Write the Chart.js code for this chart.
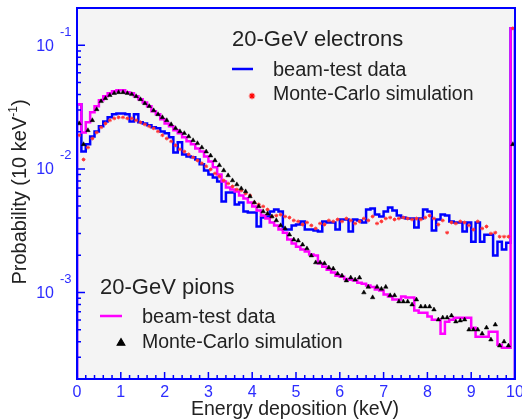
<!DOCTYPE html>
<html>
<head>
<meta charset="utf-8">
<script src="https://cdn.jsdelivr.net/npm/chart.js@4.4.1/dist/chart.umd.min.js"></script>
<style>
  html, body { margin: 0; padding: 0; background: #fff; }
  canvas { display: block; }
</style>
</head>
<body>
<canvas id="edep" width="522" height="419"></canvas>
<script>
// 0.1 keV bins from 0 to 10 keV, the last bin collects everything above
const binWidth = 0.1;

const elecData = [
  0.0333, 0.0138, 0.0158, 0.0183, 0.0201, 0.0221, 0.0242, 0.0261, 0.0276, 0.0281,
  0.0281, 0.0276, 0.0242, 0.0276, 0.0238, 0.0233, 0.0225, 0.0217, 0.0213, 0.0201,
  0.0194, 0.0180, 0.0136, 0.0164, 0.0131, 0.0126, 0.0124, 0.0119, 0.0109, 0.00972,
  0.00902, 0.00853, 0.00791, 0.00545, 0.00645, 0.00645, 0.00516, 0.00535, 0.00452, 0.00443,
  0.00443, 0.00342, 0.00404, 0.00412, 0.00452, 0.00469, 0.00452, 0.00323, 0.00323, 0.00349,
  0.00355, 0.00376, 0.00323, 0.00323, 0.00317, 0.00311, 0.00376, 0.00369, 0.00369, 0.00323,
  0.00390, 0.00390, 0.00311, 0.00390, 0.00383, 0.00369, 0.00469, 0.00479, 0.00427, 0.00412,
  0.00452, 0.00488, 0.00460, 0.00419, 0.00404, 0.00397, 0.00397, 0.00336, 0.00397, 0.00469,
  0.00452, 0.00317, 0.00390, 0.00427, 0.00419, 0.00376, 0.00369, 0.00369, 0.00311, 0.00369,
  0.00258, 0.00369, 0.00258, 0.00294, 0.00294, 0.00199, 0.00258, 0.00223, 0.00253, 0.137
];

const elecSim = [
  0.0187, 0.0119, 0.0149, 0.0176, 0.0197, 0.0217, 0.0233, 0.0247, 0.0256, 0.0261,
  0.0261, 0.0256, 0.0256, 0.0247, 0.0238, 0.0229, 0.0221, 0.0213, 0.0201, 0.0187,
  0.0176, 0.0167, 0.0155, 0.0144, 0.0138, 0.0131, 0.0124, 0.0117, 0.0111, 0.0105,
  0.00990, 0.00919, 0.00869, 0.00806, 0.00762, 0.00721, 0.00682, 0.00669, 0.00633, 0.00610,
  0.00535, 0.00516, 0.00497, 0.00469, 0.00412, 0.00419, 0.00427, 0.00412, 0.00404, 0.00383,
  0.00376, 0.00355, 0.00369, 0.00349, 0.00330, 0.00362, 0.00355, 0.00383, 0.00376, 0.00390,
  0.00376, 0.00397, 0.00383, 0.00362, 0.00376, 0.00397, 0.00383, 0.00412, 0.00362, 0.00376,
  0.00397, 0.00404, 0.00390, 0.00397, 0.00404, 0.00397, 0.00390, 0.00397, 0.00390, 0.00404,
  0.00419, 0.00397, 0.00355, 0.00383, 0.00305, 0.00369, 0.00362, 0.00376, 0.00369, 0.00349,
  0.00323, 0.00376, 0.00330, 0.00342, 0.00300, 0.00305, 0.00283, 0.00283, 0.00283, 0.137
];

const pionData = [
  0.0333, 0.0197, 0.0238, 0.0287, 0.0321, 0.0359, 0.0386, 0.0409, 0.0424, 0.0432,
  0.0432, 0.0416, 0.0409, 0.0386, 0.0365, 0.0345, 0.0321, 0.0292, 0.0276, 0.0252,
  0.0233, 0.0221, 0.0205, 0.0194, 0.0180, 0.0167, 0.0158, 0.0146, 0.0138, 0.0126,
  0.0115, 0.0103, 0.00902, 0.00791, 0.00707, 0.00682, 0.00657, 0.00610, 0.00577, 0.00535,
  0.00497, 0.00460, 0.00419, 0.00397, 0.00369, 0.00349, 0.00323, 0.00305, 0.00268, 0.00249,
  0.00235, 0.00223, 0.00215, 0.00203, 0.00199, 0.00172, 0.00162, 0.00153, 0.00145, 0.00137,
  0.00134, 0.00129, 0.00127, 0.00125, 0.00120, 0.00118, 0.00114, 0.00111, 0.00106, 0.00104,
  0.000966, 0.000930, 0.000877, 0.000877, 0.000930, 0.000913, 0.000913, 0.000715, 0.000688, 0.000688,
  0.000639, 0.000604, 0.000604, 0.000465, 0.000582, 0.000604, 0.000627, 0.000627, 0.000627, 0.000627,
  0.000520, 0.000440, 0.000440, 0.000440, 0.000483, 0.000483, 0.000379, 0.000358, 0.000358, 0.137
];

const pionSim = [
  0.0233, 0.0158, 0.0205, 0.0247, 0.0303, 0.0352, 0.0372, 0.0394, 0.0409, 0.0416,
  0.0416, 0.0409, 0.0401, 0.0386, 0.0365, 0.0339, 0.0321, 0.0297, 0.0276, 0.0261,
  0.0247, 0.0229, 0.0213, 0.0201, 0.0194, 0.0183, 0.0170, 0.0161, 0.0149, 0.0138,
  0.0128, 0.0117, 0.0107, 0.00972, 0.00885, 0.00806, 0.00748, 0.00694, 0.00657, 0.00599,
  0.00535, 0.00497, 0.00452, 0.00435, 0.00412, 0.00383, 0.00349, 0.00330, 0.00294, 0.00268,
  0.00263, 0.00244, 0.00227, 0.00199, 0.00175, 0.00175, 0.00172, 0.00159, 0.00156, 0.00142,
  0.00137, 0.00125, 0.00132, 0.00127, 0.00132, 0.00100, 0.00111, 0.000913, 0.00111, 0.00107,
  0.00111, 0.000948, 0.000948, 0.000845, 0.000845, 0.000845, 0.000799, 0.000877, 0.000770, 0.000770,
  0.000770, 0.000728, 0.000604, 0.000627, 0.000627, 0.000651, 0.000582, 0.000593, 0.000604, 0.000501,
  0.000501, 0.000501, 0.000465, 0.000520, 0.000416, 0.000550, 0.000372, 0.000401, 0.000372, 0.0158
];

const xTicks = [0, 1, 2, 3, 4, 5, 6, 7, 8, 9, 10];
const yDecades = [1e-3, 1e-2, 1e-1];
const yDecadeExp = ['-3', '-2', '-1'];
const yMin = 2e-4, yMax = 0.2;

const legendTitles = ['20-GeV electrons', '20-GeV pions'];
const legendRows = ['beam-test data', 'Monte-Carlo simulation'];

const axisBlue = '#0000ff';
const labelBlue = '#2c2cff';
const textCol = '#222222';
const FONT = '"Liberation Sans", Arial, Helvetica, sans-serif';

// step outline that drops to the floor at both ends, like ROOT draws it
function histPoints(vals) {
  const floor = yMin / 10;
  const pts = [{ x: 0, y: floor }];
  vals.forEach((v, i) => pts.push({ x: i * binWidth, y: v }));
  const end = vals.length * binWidth;
  pts.push({ x: end, y: vals[vals.length - 1] });
  pts.push({ x: end, y: floor });
  return pts;
}

function centerPoints(vals) {
  return vals.map((v, i) => ({ x: (i + 0.5) * binWidth, y: v }));
}

function marker(ctx, style, x, y, r, color) {
  ctx.save();
  ctx.fillStyle = color;
  ctx.strokeStyle = color;
  ctx.lineWidth = 1.1;
  if (Chart.helpers && Chart.helpers.drawPoint) {
    Chart.helpers.drawPoint(ctx, { pointStyle: style, radius: r, borderWidth: 1.1, rotation: 0 }, x, y);
  }
  ctx.restore();
}

const decor = {
  id: 'decor',
  beforeDatasetsDraw(chart) {
    const { ctx, chartArea: a } = chart;
    ctx.save();
    ctx.fillStyle = '#f4f4f4';
    ctx.fillRect(a.left, a.top, a.right - a.left, a.bottom - a.top);
    ctx.restore();
  },
  afterDatasetsDraw(chart) {
    const { ctx, chartArea: a, scales: { x, y } } = chart;
    ctx.save();
    ctx.strokeStyle = axisBlue;
    ctx.lineWidth = 2;
    ctx.strokeRect(a.left, a.top, a.right - a.left, a.bottom - a.top);

    ctx.lineWidth = 1.5;
    ctx.beginPath();
    // x ticks every 0.2 keV, longer on the integers
    for (let k = 0; k <= 50; k++) {
      const px = x.getPixelForValue(k * 0.2);
      const len = k % 5 === 0 ? 7 : 4;
      ctx.moveTo(px, a.bottom);
      ctx.lineTo(px, a.bottom - len);
    }
    // log ticks on the left axis
    for (let d = -4; d <= -1; d++) {
      for (let m = 1; m <= 9; m++) {
        const v = m * Math.pow(10, d);
        if (v < yMin * 0.999 || v > yMax * 1.001) continue;
        const py = y.getPixelForValue(v);
        const len = m === 1 ? 8 : 4;
        ctx.moveTo(a.left, py);
        ctx.lineTo(a.left + len, py);
      }
    }
    ctx.stroke();
    ctx.restore();
  },
  afterDraw(chart) {
    const { ctx, chartArea: a, scales: { x, y } } = chart;
    ctx.save();

    // tick labels
    ctx.fillStyle = labelBlue;
    ctx.textBaseline = 'middle';
    ctx.textAlign = 'center';
    ctx.font = '16px ' + FONT;
    xTicks.forEach(t => ctx.fillText(String(t), x.getPixelForValue(t), a.bottom + 14));

    yDecades.forEach((v, i) => {
      const py = y.getPixelForValue(v);
      ctx.font = '16px ' + FONT;
      ctx.textAlign = 'right';
      ctx.fillText('10', a.left - 23, py + 1);
      ctx.font = '13px ' + FONT;
      ctx.textAlign = 'left';
      ctx.fillText(yDecadeExp[i], a.left - 17, py - 13);
    });

    // axis titles
    ctx.fillStyle = textCol;
    ctx.font = '19.5px ' + FONT;
    ctx.textAlign = 'center';
    ctx.fillText('Energy deposition (keV)', 295, 410);

    ctx.save();
    ctx.translate(20, 192);
    ctx.rotate(-Math.PI / 2);
    const main = 'Probability (10 keV';
    const sup = '-1';
    const close = ')';
    ctx.font = '20px ' + FONT;
    const w1 = ctx.measureText(main).width;
    const w3 = ctx.measureText(close).width;
    ctx.font = '12px ' + FONT;
    const w2 = ctx.measureText(sup).width;
    let cx = -(w1 + w2 + w3) / 2;
    ctx.textAlign = 'left';
    ctx.font = '20px ' + FONT;
    ctx.fillText(main, cx, 0);
    cx += w1;
    ctx.font = '12px ' + FONT;
    ctx.fillText(sup, cx, -6);
    cx += w2;
    ctx.font = '20px ' + FONT;
    ctx.fillText(close, cx, 0);
    ctx.restore();

    // legends
    ctx.textAlign = 'left';
    ctx.fillStyle = textCol;
    ctx.font = '22px ' + FONT;
    ctx.fillText(legendTitles[0], 232, 40);
    ctx.fillText(legendTitles[1], 100, 288);
    ctx.font = '20px ' + FONT;
    ctx.fillText(legendRows[0], 273, 70);
    ctx.fillText(legendRows[0], 142, 317);
    ctx.font = '19.5px ' + FONT;
    ctx.fillText(legendRows[1], 273, 95);
    ctx.fillText(legendRows[1], 142, 343);

    ctx.lineWidth = 2.5;
    ctx.strokeStyle = '#0000ff';
    ctx.beginPath();
    ctx.moveTo(232, 69);
    ctx.lineTo(253, 69);
    ctx.stroke();
    ctx.strokeStyle = '#ff00ff';
    ctx.beginPath();
    ctx.moveTo(100, 316);
    ctx.lineTo(122, 316);
    ctx.stroke();
    marker(ctx, 'star', 252, 96, 3.2, '#ff0000');
    marker(ctx, 'triangle', 121, 343, 4.5, '#000000');

    ctx.restore();
  }
};

new Chart(document.getElementById('edep'), {
  type: 'scatter',
  data: {
    datasets: [
      {
        label: 'pions MC',
        data: centerPoints(pionSim),
        pointStyle: 'triangle',
        pointRadius: 2.6,
        backgroundColor: '#000000',
        borderColor: '#000000',
        borderWidth: 0.5
      },
      {
        label: 'electrons MC',
        data: centerPoints(elecSim),
        pointStyle: 'star',
        pointRadius: 1.9,
        backgroundColor: '#ff0000',
        borderColor: '#ff3030',
        borderWidth: 1
      },
      {
        label: 'pions data',
        data: histPoints(pionData),
        showLine: true,
        stepped: true,
        borderColor: '#ff00ff',
        borderWidth: 2.5,
        pointRadius: 0
      },
      {
        label: 'electrons data',
        data: histPoints(elecData),
        showLine: true,
        stepped: true,
        borderColor: '#0000ff',
        borderWidth: 2.5,
        pointRadius: 0
      }
    ]
  },
  options: {
    responsive: false,
    animation: false,
    events: [],
    layout: { padding: { left: 77, right: 7, top: 8, bottom: 40 } },
    plugins: { legend: { display: false }, tooltip: { enabled: false } },
    scales: {
      x: { type: 'linear', min: 0, max: 10, display: false },
      y: { type: 'logarithmic', min: yMin, max: yMax, display: false }
    }
  },
  plugins: [decor]
});
</script>
</body>
</html>
